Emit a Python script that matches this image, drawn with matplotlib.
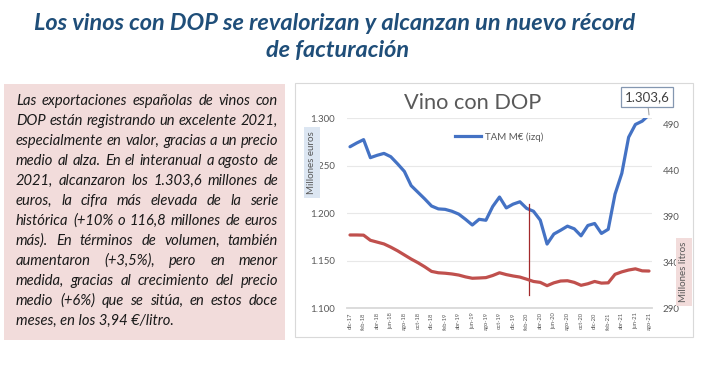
import matplotlib
matplotlib.use("Agg")
import matplotlib.pyplot as plt
from matplotlib.patches import Rectangle
from matplotlib.font_manager import FontProperties
from matplotlib.ticker import FuncFormatter, FixedLocator
from matplotlib.lines import Line2D

plt.rcParams['font.family'] = ['Lato', 'DejaVu Sans']

# ---------------- data ----------------
months = ['dic-17', 'ene-18', 'feb-18', 'mar-18', 'abr-18', 'may-18', 'jun-18', 'jul-18',
          'ago-18', 'sep-18', 'oct-18', 'nov-18', 'dic-18', 'ene-19', 'feb-19', 'mar-19',
          'abr-19', 'may-19', 'jun-19', 'jul-19', 'ago-19', 'sep-19', 'oct-19', 'nov-19',
          'dic-19', 'ene-20', 'feb-20', 'mar-20', 'abr-20', 'may-20', 'jun-20', 'jul-20',
          'ago-20', 'sep-20', 'oct-20', 'nov-20', 'dic-20', 'ene-21', 'feb-21', 'mar-21',
          'abr-21', 'may-21', 'jun-21', 'jul-21', 'ago-21']

# TAM millones de euros (eje izquierdo)
valor_meur = [1270.0, 1274.0, 1277.5, 1258.5, 1261.0, 1263.0, 1259.5, 1252.0, 1244.0,
              1229.0, 1222.0, 1215.0, 1207.5, 1204.5, 1204.0, 1202.0, 1199.0, 1193.5,
              1187.5, 1193.5, 1192.5, 1207.0, 1217.0, 1205.5, 1209.5, 1212.0, 1205.0,
              1202.0, 1192.6, 1167.4, 1178.0, 1182.0, 1186.3, 1183.5, 1176.1, 1187.0,
              1189.1, 1178.6, 1183.0, 1220.0, 1242.0, 1280.0, 1293.5, 1297.0, 1303.6]

# TAM millones de litros (eje derecho)
volumen_mlitros = [369.8, 369.8, 369.6, 364.0, 362.0, 360.0, 356.5, 352.5, 348.0,
                   343.5, 339.5, 335.0, 330.0, 328.5, 328.0, 327.2, 326.0, 324.0,
                   322.5, 322.8, 323.2, 325.5, 328.5, 326.5, 325.0, 323.8, 321.5,
                   319.0, 318.0, 314.4, 317.5, 319.5, 319.8, 318.0, 314.8, 316.5,
                   319.0, 317.2, 317.5, 326.8, 329.5, 331.5, 332.8, 330.6, 330.4]

left_ticks = [1100, 1150, 1200, 1250, 1300]
right_ticks = [290, 340, 390, 440, 490]
right_top = 497.3

# marker line (between feb-20 and mar-20)
marker_pos = 26.3
marker_range = (1113.7, 1209.5)

title_lines = ["Los vinos con DOP se revalorizan y alcanzan un nuevo récord",
               "de facturación"]
body_lines = ["Las exportaciones españolas de vinos con",
              "DOP están registrando un excelente 2021,",
              "especialmente en valor, gracias a un precio",
              "medio al alza. En el interanual a agosto de",
              "2021, alcanzaron los 1.303,6 millones de",
              "euros, la cifra más elevada de la serie",
              "histórica (+10% o 116,8 millones de euros",
              "más). En términos de volumen, también",
              "aumentaron (+3,5%), pero en menor",
              "medida, gracias al crecimiento del precio",
              "medio (+6%) que se sitúa, en estos doce",
              "meses, en los 3,94 €/litro."]

# ---------------- figure ----------------
W, H = 712, 372
fig = plt.figure(figsize=(W / 100, H / 100), dpi=100)
fig.patch.set_facecolor('white')


def fx(x):
    return x / W


def fy(y):
    return 1 - y / H


GRAY = '#595959'
BLUE = '#4472c4'
RED = '#c0504d'
NAVY = '#1f4e79'

# chart frame
fig.add_artist(Rectangle((fx(295), fy(337)), (693 - 295) / W, (337 - 83) / H,
                         transform=fig.transFigure, fc='white', ec='#d9d9d9',
                         lw=0.8, zorder=-5))
# text box background
fig.add_artist(Rectangle((fx(4), fy(340)), (285 - 4) / W, (340 - 84) / H,
                         transform=fig.transFigure, fc='#f2dcdb', ec='none',
                         zorder=-5))

ax = fig.add_axes([346.6 / W, (H - 308) / H, 305.8 / W, 189.7 / H])
ax.set_facecolor('none')
x = list(range(len(months)))
ax.plot(x, valor_meur, color=BLUE, lw=2.3, solid_capstyle='round',
        solid_joinstyle='round', zorder=4)
ax.set_xlim(-0.5, len(months) - 0.5)
ax.set_ylim(left_ticks[0], left_ticks[-1])
ax.yaxis.set_major_locator(FixedLocator(left_ticks))
ax.yaxis.set_major_formatter(FuncFormatter(lambda v, p: f"{v:,.0f}".replace(',', '.')))
ax.set_xticks(x[::2])
ax.set_xticklabels(months[::2], rotation=90, fontsize=4.2, color=GRAY)
ax.tick_params(axis='x', length=0, pad=3)
ax.tick_params(axis='y', length=0, pad=8.4, labelsize=7, labelcolor=GRAY)
ax.yaxis.grid(True, color='#e8e8e8', lw=0.8)
ax.set_axisbelow(True)
for s in ['top', 'left', 'right']:
    ax.spines[s].set_visible(False)
ax.spines['bottom'].set_color('#d9d9d9')
ax.spines['bottom'].set_linewidth(1.3)

ax2 = ax.twinx()
ax2.set_facecolor('none')
ax2.plot(x, volumen_mlitros, color=RED, lw=2.3, solid_capstyle='round',
         solid_joinstyle='round', zorder=3)
ax2.set_ylim(right_ticks[0], right_top)
ax2.yaxis.set_major_locator(FixedLocator(right_ticks))
ax2.tick_params(axis='y', length=0, pad=7.2, labelsize=7, labelcolor=GRAY)
for s in ax2.spines.values():
    s.set_visible(False)

# marker line
ax.plot([marker_pos, marker_pos], list(marker_range), color='#a3292b', lw=0.9, zorder=5)

# last value callout
last_label = f"{valor_meur[-1]:,.1f}".replace(',', 'X').replace('.', ',').replace('X', '.')
ax.annotate(last_label, xy=(x[-1], valor_meur[-1]), xytext=(-1.4, 13),
            textcoords='offset points', ha='center', va='center', fontsize=9.5,
            color='#404040', annotation_clip=False, zorder=10,
            bbox=dict(boxstyle='square,pad=0.3', fc='white', ec='#8497b0', lw=0.9),
            arrowprops=dict(arrowstyle='-', color='#a6a6a6', lw=0.8,
                            shrinkA=0, shrinkB=0))

# legend
leg = fig.legend(handles=[Line2D([0], [0], color=BLUE, lw=2.3)], labels=['TAM M€ (izq)'],
                 loc='center left', bbox_to_anchor=(fx(455), fy(137)), frameon=False,
                 fontsize=7, handlelength=2.7, handletextpad=0.4, borderpad=0,
                 borderaxespad=0, labelcolor=GRAY)

# axis titles with coloured boxes
fig.text(fx(312), fy(162.5), 'Millones euros', rotation=90, ha='center', va='center',
         fontsize=7, color=GRAY, zorder=10,
         bbox=dict(boxstyle='square,pad=0.4', fc='#dce6f2', ec='none'))
fig.text(fx(684), fy(272), 'Millones litros', rotation=90, ha='center', va='center',
         fontsize=7, color=GRAY, zorder=10,
         bbox=dict(boxstyle='square,pad=0.4', fc='#f2dcdb', ec='none'))

# ---------------- texts sized by measurement ----------------
fig.canvas.draw()
renderer = fig.canvas.get_renderer()


def tw(s, fp):
    w, h, d = renderer.get_text_width_height_descent(s, fp, ismath=False)
    return w


# chart title
fp_ct = FontProperties(family=['Lato', 'DejaVu Sans'], size=10)
ct_size = 10 * 137 / tw('Vino con DOP', fp_ct)
fig.text(fx(473), fy(103), 'Vino con DOP', ha='center', va='center',
         fontsize=ct_size, color=GRAY, zorder=10)

# main title
fp_t = FontProperties(family=['Lato', 'DejaVu Sans'], weight='bold', style='italic', size=10)
t_size = 10 * 600 / tw(title_lines[0], fp_t)
fig.text(fx(335), fy(23), title_lines[0], ha='center', va='center', fontsize=t_size,
         color=NAVY, weight='bold', style='italic')
fig.text(fx(338), fy(51), title_lines[1], ha='center', va='center', fontsize=t_size,
         color=NAVY, weight='bold', style='italic')

# justified body text
fp_b = FontProperties(family=['Lato', 'DejaVu Sans'], style='italic', size=10)
x0, x1 = 16, 278
maxw = max(tw(l, fp_b) for l in body_lines)
b_size = 10 * (x1 - x0) / maxw
fp_b = FontProperties(family=['Lato', 'DejaVu Sans'], style='italic', size=b_size)
for k, line in enumerate(body_lines):
    yy = 101 + 20 * k
    words = line.split(' ')
    if k == len(body_lines) - 1 or len(words) == 1:
        fig.text(fx(x0), fy(yy), line, ha='left', va='center', fontproperties=fp_b,
                 color='#1a1a1a')
        continue
    widths = [tw(w_, fp_b) for w_ in words]
    gap = ((x1 - x0) - sum(widths)) / (len(words) - 1)
    cx = x0
    for w_, wd in zip(words, widths):
        fig.text(fx(cx), fy(yy), w_, ha='left', va='center', fontproperties=fp_b,
                 color='#1a1a1a')
        cx += wd + gap

fig.savefig('out.png', dpi=100)
